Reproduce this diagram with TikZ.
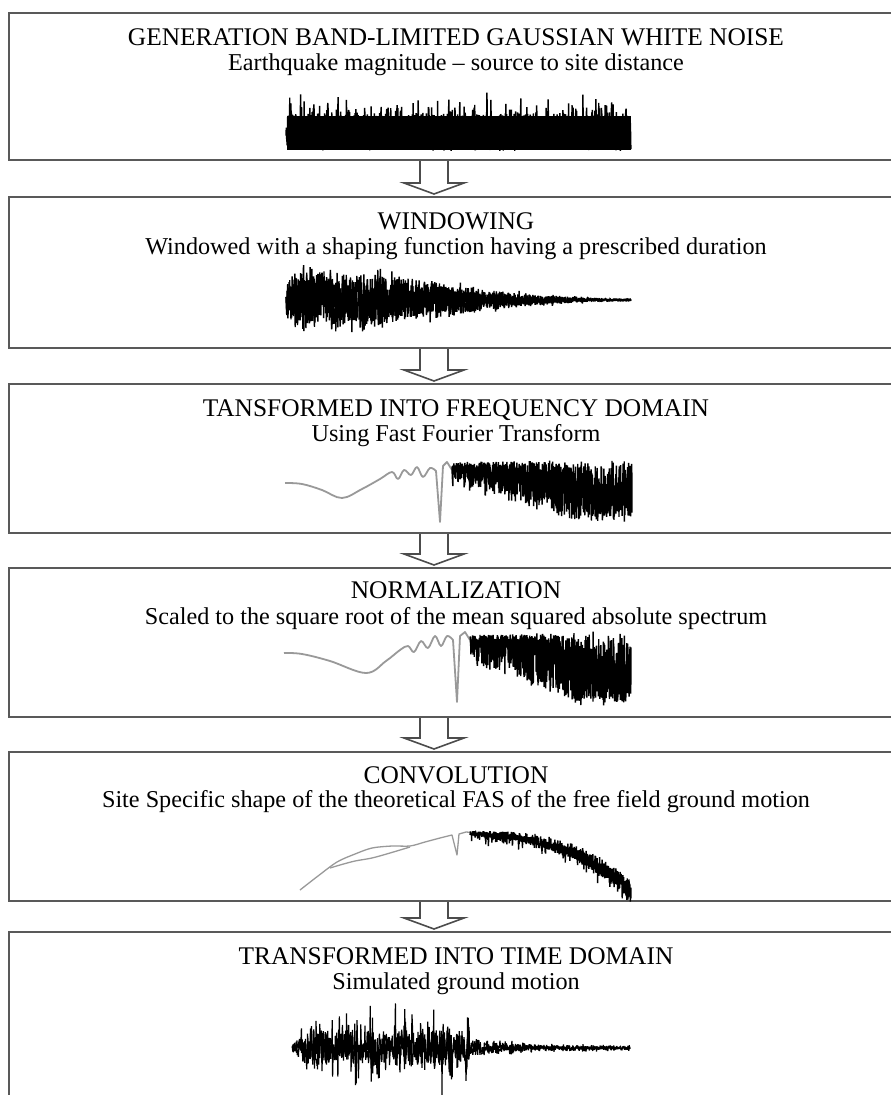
\documentclass[tikz,border=0pt]{standalone}
\usepackage{fontspec}
\setmainfont{Liberation Serif}
\usetikzlibrary{calc}
\tikzset{
  stagebox/.style={draw=black!65, line width=2pt, rectangle, anchor=north west,
    minimum width=885pt, inner sep=0pt},
  ttl/.style={anchor=base, inner sep=0pt, text=black, font=\fontsize{25.4}{30}\selectfont},
  subtxt/.style={anchor=base, inner sep=0pt, text=black, font=\fontsize{24.2}{29}\selectfont},
  hollow/.style={draw=black!70, line width=1.6pt, line join=miter},
  wave/.style={line width=1.4pt, black, line join=miter, miter limit=2},
  gwave/.style={line width=1.8pt, black!40, line join=round},
}
\newcommand\harrow[2]{%
  \path (#1.south -| ax) coordinate (hs) (#2.north -| ax) coordinate (he);
  \draw[hollow] ($(hs)+(-14,0)$) -- ($(he)+(-14,-13)$) -- ($(he)+(-30,-13)$)
    -- ($(he)+(0,-2)$) -- ($(he)+(30,-13)$) -- ($(he)+(14,-13)$) -- ($(hs)+(14,0)$);
}
\begin{document}
\begin{tikzpicture}[x=1pt,y=-1pt]
\useasboundingbox (0,0) rectangle (891,1095);
\clip (0,0) rectangle (891,1095);
\fill[white] (0,0) rectangle (891,1095);
\coordinate (ax) at (434,0);

% boxes
\node[stagebox, minimum height=147pt] (b1) at (8,12) {};
\node[stagebox, minimum height=151pt] (b2) at (8,196) {};
\node[stagebox, minimum height=149pt] (b3) at (8,383) {};
\node[stagebox, minimum height=149pt] (b4) at (8,567) {};
\node[stagebox, minimum height=149pt] (b5) at (8,751) {};
\node[stagebox, minimum height=200pt] (b6) at (8,931) {};

% arrows
\harrow{b1}{b2}
\harrow{b2}{b3}
\harrow{b3}{b4}
\harrow{b4}{b5}
\harrow{b5}{b6}

% texts
\node[ttl] (t1) at (456,45) {GENERATION BAND-LIMITED GAUSSIAN WHITE NOISE};
\node[subtxt] (s1) at (456,70) {Earthquake magnitude – source to site distance};
\node[ttl] (t2) at (456,229) {WINDOWING};
\node[subtxt] (s2) at (456,254) {Windowed with a shaping function having a prescribed duration};
\node[ttl] (t3) at (456,416) {TANSFORMED INTO FREQUENCY DOMAIN};
\node[subtxt] (s3) at (456,441) {Using Fast Fourier Transform};
\node[ttl] (t4) at (456,598) {NORMALIZATION};
\node[subtxt] (s4) at (456,624) {Scaled to the square root of the mean squared absolute spectrum};
\node[ttl] (t5) at (456,783) {CONVOLUTION};
\node[subtxt] (s5) at (456,807) {Site Specific shape of the theoretical FAS of the free field ground motion};
\node[ttl] (t6) at (456,964) {TRANSFORMED INTO TIME DOMAIN};
\node[subtxt] (s6) at (456,989) {Simulated ground motion};

% wave 1: band-limited white noise
\pgfmathsetseed{7}
\fill (287,116) rectangle (631,150);
\draw[wave] plot[domain=286:631, samples=1200] (\x, {132 + 19*rand - 22*pow(0.001+0.999*rnd,5)});

% wave 2: windowed noise
\pgfmathsetseed{11}
\draw[wave] plot[domain=286:631, samples=1200]
  (\x, {300 + 40*min(1,0.45+(\x-286)/25)*exp(-pow(max(0,\x-318)/170,2))*(0.55*rand+0.45*(2*rnd-1)*(rand>0))});
\draw[wave] plot[domain=286:631, samples=900]
  (\x, {300 + 30*min(1,0.55+(\x-286)/25)*exp(-pow(max(0,\x-318)/165,2))*rand});

% wave 3: FFT spectrum
\draw[gwave] plot[smooth, tension=0.6] coordinates {(285,483) (302,484) (322,490) (342,498) (362,489) (380,479) (392,472) (398,479) (404,470) (411,475) (417,467) (423,477) (430,468) (436,471)}
  -- (440,522) -- (443,466) -- (447,462) -- (452,470);
\pgfmathsetseed{23}
\draw[wave] plot[domain=452:632, samples=1000]
  (\x, {465 - 4*(\x-452)/180 + 3*rand + (20 + 38*min(1,(\x-452)/130))*pow(0.001+0.999*rnd, 0.8 + 2.2*max(0,(590-\x)/140))});

% wave 4: normalized spectrum
\draw[gwave] plot[smooth, tension=0.6] coordinates {(284,653) (302,654) (330,661) (366,673) (386,661) (400,650) (408,646) (414,652) (421,641) (428,648) (435,636) (441,646) (447,636) (453,640)}
  -- (457,702) -- (460,636) -- (465,632) -- (470,640);
\pgfmathsetseed{31}
\draw[wave] plot[domain=470:631, samples=950]
  (\x, {638 - 5*(\x-470)/161 + 3*rand + (24 + 46*min(1,(\x-470)/115))*pow(0.001+0.999*rnd, 0.8 + 2.2*max(0,(595-\x)/125))});

% wave 5: convolved spectrum
\draw[gwave, line width=1.3pt] plot[smooth] coordinates {(300,890) (318,876) (337,862) (355,854) (372,848) (392,846) (410,846) (425,842) (440,838) (452,835)}
  -- (457,855) -- (459,834) -- (466,832) -- (480,833);
\draw[gwave, line width=1.3pt] plot[smooth] coordinates {(330,868) (340,865) (355,861) (372,858) (390,853) (410,847)};
\pgfmathsetseed{41}
\draw[wave] plot[domain=470:631, samples=900]
  (\x, {831 + 48*pow(max(0.001,(\x-490)/141),2.5) + (4+18*(\x-470)/161)*pow(0.001+0.999*rnd,0.8) + 12*pow(0.001+0.999*rnd,12)});

% wave 6: simulated ground motion
\pgfmathsetseed{5}
\draw[wave, line width=1.2pt] plot[domain=292:630, samples=900]
  (\x, {1048 + ((\x<470)*50*min(1,(\x-288)/28)*(0.5+0.5*abs(sin(\x*23))) + (\x>=470)*(3+14*exp(-(\x-470)/45))) * rand * (0.2+0.8*pow(0.001+0.999*rnd,1.6))});
\draw[wave, line width=1.2pt] plot[domain=292:630, samples=500]
  (\x, {1048 + ((\x<470)*18*min(1,(\x-288)/20) + (\x>=470)*(2+6*exp(-(\x-470)/45))) * rand});
\end{tikzpicture}
\end{document}
